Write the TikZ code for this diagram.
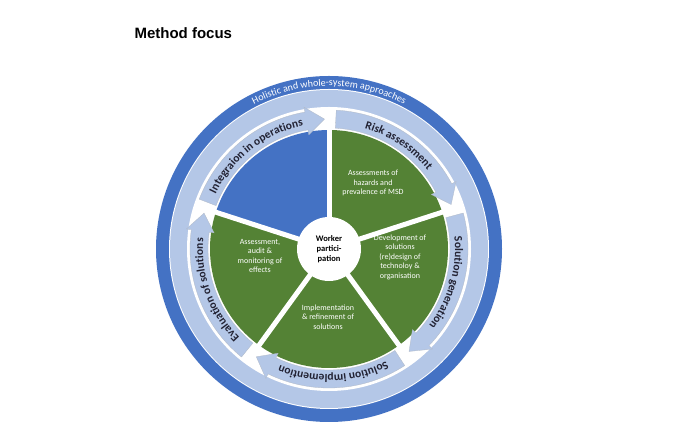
\documentclass[tikz,border=0pt]{standalone}
\usepackage{fontspec}
\setmainfont{Carlito}
\setsansfont{Liberation Sans}
\usetikzlibrary{calc,decorations.text}
\definecolor{dblue}{HTML}{4472C4}
\definecolor{lblue}{HTML}{B4C7E7}
\definecolor{green1}{HTML}{548235}
\definecolor{txt}{HTML}{222233}
\newcommand\arrtxt{\fontsize{11.5}{13}\selectfont\bfseries\color{txt}}
\newcommand\holtxt{\fontsize{10}{11}\selectfont\color{white}}
\newcommand\myband[3]{%
  \fill[lblue,draw=lblue!70!black!60,line width=0.3pt] ($(C)+(#1:139)$) arc[start angle=#1,end angle=#2+8,radius=139]
    -- ($(C)+(#2+8:144)$) -- ($(C)+(#2:130)$) -- ($(C)+(#2+8:116)$) -- ($(C)+(#2+8:121)$)
    arc[start angle=#2+8,end angle=#1,radius=121] -- cycle;
  \path[decorate,decoration={text along path,text align=center,text={|\arrtxt|#3}}]
    ($(C)+(#1:126)$) arc[start angle=#1,end angle=#2+5,radius=126];}
\begin{document}
\begin{tikzpicture}[x=1pt,y=1pt,
  inner/.style={text=white,align=center,font=\fontsize{8}{9.5}\selectfont}]
\useasboundingbox (0,0) rectangle (696,446);
\fill[white] (0,0) rectangle (696,446);
\coordinate (C) at (329,197);
\node[anchor=west,font=\sffamily\bfseries\fontsize{15}{18}\selectfont] (title) at (131,413) {Method focus};
\fill[dblue] (C) circle[radius=173];
\fill[white] (C) circle[radius=160];
\fill[lblue] (C) circle[radius=159];
\fill[white] (C) circle[radius=142];
\path[decorate,decoration={text along path,text align=center,text={|\holtxt|Holistic and whole-system approaches}}]
  ($(C)+(150:163)$) arc[start angle=150,end angle=30,radius=163];
% sectors
\fill[green1] (C) -- ($(C)+(90:119)$) arc[start angle=90,end angle=-198,radius=119] -- cycle;
\fill[dblue] (C) -- ($(C)+(162:119)$) arc[start angle=162,end angle=90,radius=119] -- cycle;
\foreach \a in {90,18,-54,-126,162}
  \draw[white,line width=5pt] (C) -- ($(C)+(\a:121)$);
\node[circle,fill=white,minimum size=64pt,inner sep=0pt,align=center,
  font=\fontsize{8.5}{10}\selectfont\bfseries] (wp) at (C) {Worker\\partici-\\pation};
\node[inner] (s1) at (373,263) {Assessments of\\hazards and\\prevalence of MSD};
\node[inner] (s2) at (400,189) {Development of\\solutions\\(re)design of\\technoloy \&\\organisation};
\node[inner] (s3) at (328,129) {Implementation\\\& refinement of\\solutions};
\node[inner] (s4) at (260,190) {Assessment,\\audit \&\\monitoring of\\effects};
\myband{87}{20}{Risk assessment}
\myband{15}{-52}{Solution generation}
\myband{-57}{-124}{Solution implemention}
\myband{-129}{-196}{Evaluation of solutions}
\myband{159}{92}{Integraion in operations}
\end{tikzpicture}
\end{document}
